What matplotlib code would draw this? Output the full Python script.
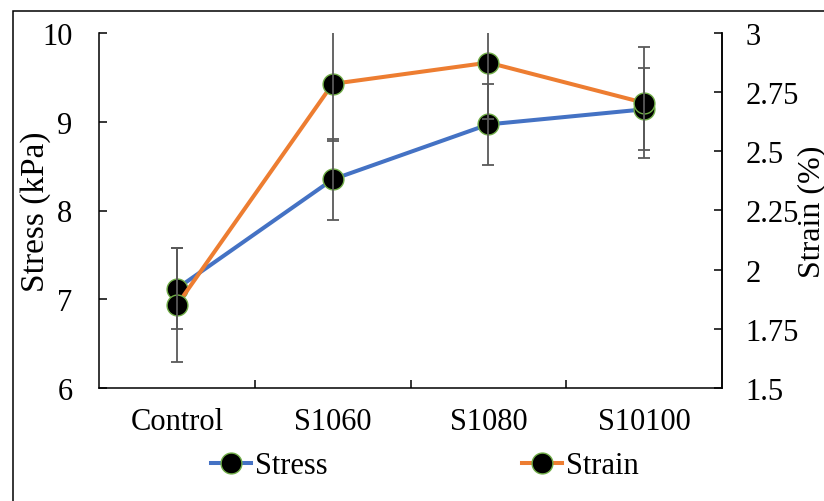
import matplotlib
matplotlib.use("Agg")
import matplotlib.pyplot as plt
from matplotlib.patches import Rectangle

groups = ["Control", "S1060", "S1080", "S10100"]
stress = [7.12, 8.35, 8.97, 9.14]
stress_err = [0.46, 0.46, 0.46, 0.46]
strain = [1.85, 2.785, 2.875, 2.705]
strain_err = [0.24, 0.24, 0.24, 0.235]

plt.rcParams['font.family'] = ['Liberation Serif', 'DejaVu Serif']
fs = 22

fig = plt.figure(figsize=(8.24, 5.02), dpi=100)
ax = fig.add_axes([99 / 824, 1 - 389 / 502, 623 / 824, 355 / 502])
ax2 = ax.twinx()

x = list(range(len(groups)))
mk = dict(marker='o', markersize=15, markerfacecolor='black',
          markeredgecolor='#70AD47', markeredgewidth=1.0)
eb = dict(ecolor='#595959', elinewidth=1.3, capsize=4.5, capthick=1.3)

ax.errorbar(x, stress, yerr=stress_err, fmt='none', zorder=3, **eb)
ax.plot(x, stress, color='#4472C4', lw=2.9, zorder=2, label='Stress', **mk)
ax2.errorbar(x, strain, yerr=strain_err, fmt='none', zorder=3, **eb)
ax2.plot(x, strain, color='#ED7D31', lw=2.9, zorder=2, label='Strain', **mk)

# Axes ranges and ticks
ax.set_xlim(-0.5, 3.5)
ax.set_ylim(6, 10)
ax2.set_ylim(1.5, 3)
ax.set_yticks([6, 7, 8, 9, 10])
ax2.set_yticks([1.5, 1.75, 2, 2.25, 2.5, 2.75, 3])
ax2.set_yticklabels(['1.5', '1.75', '2', '2.25', '2.5', '2.75', '3'])
ax.set_xticks(x)
ax.set_xticklabels(groups)
ax.set_xticks([0.5, 1.5, 2.5], minor=True)

ax.tick_params(axis='x', which='major', length=0, labelsize=fs, pad=14)
ax.tick_params(axis='x', which='minor', direction='in', length=5.5, width=1.1)
ax.tick_params(axis='y', direction='in', length=6, width=1.1, labelsize=fs, pad=19)
ax2.tick_params(axis='y', direction='in', length=6, width=1.1, labelsize=fs, pad=17)

for a in (ax, ax2):
    a.spines['top'].set_visible(False)
    for s in a.spines.values():
        s.set_linewidth(1.1)
ax2.spines['left'].set_visible(False)
ax2.spines['bottom'].set_visible(False)

# Axis titles
yc = 1 - 211.5 / 502
fig.text(36 / 824, yc, 'Stress (kPa)', fontsize=24, rotation=90, ha='center', va='center')
fig.text(812 / 824, yc, 'Strain (%)', fontsize=23, rotation=90, ha='center', va='center')

# Legend below the plot
h1, l1 = ax.get_legend_handles_labels()
h2, l2 = ax2.get_legend_handles_labels()
fig.legend(h1 + h2, l1 + l2, loc='center', bbox_to_anchor=(425 / 824, 1 - 467 / 502),
           ncol=2, frameon=False, fontsize=fs, handlelength=1.3, handletextpad=0.15,
           columnspacing=6.35, borderpad=0)

# Outer chart border
fig.patches.append(Rectangle((13 / 824, -0.2), 1.2, 1.2 - 12 / 502, transform=fig.transFigure,
                             fill=False, edgecolor='black', lw=1.1, clip_on=False))

fig.savefig('out.png', dpi=100)
